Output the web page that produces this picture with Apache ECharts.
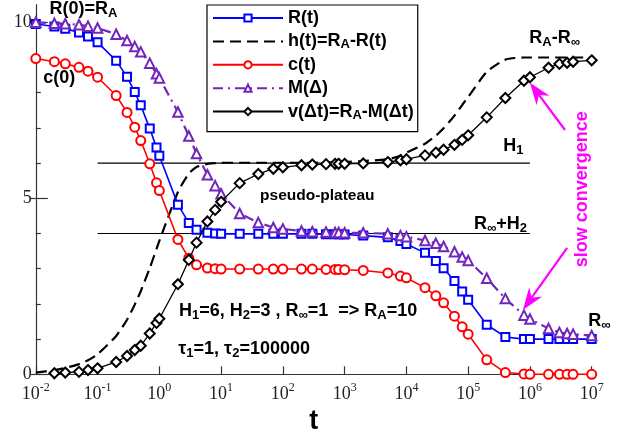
<!DOCTYPE html>
<html>
<head>
<meta charset="utf-8">
<script src="https://cdn.jsdelivr.net/npm/echarts@6/dist/echarts.min.js"></script>
<style>
html,body{margin:0;padding:0;background:#fff}
#main{width:635px;height:430px}
</style>
</head>
<body>
<div id="main"></div>
<script>
// time grid (same for all curves)
var T = [0.01,0.02,0.03,0.05,0.07,0.1,0.2,0.3,0.4,0.5,0.7,0.9,
         1,2,3,4,6,8,10,
         20,40,70,100,
         200,300,500,700,800,1000,
         2000,5000,8000,10000,
         20000,30000,40000,60000,80000,100000,
         200000,400000,800000,1000000,
         2000000,3000000,4000000,5000000,10000000];
// R(t)
var R = [9.95,9.88,9.82,9.71,9.60,9.43,8.91,8.45,8.02,7.64,6.98,6.44,
         6.21,4.82,4.30,4.11,4.02,4.00,3.99,
         3.99,3.99,3.99,3.99,
         3.99,3.99,3.98,3.98,3.98,3.97,
         3.94,3.89,3.79,3.70,
         3.45,3.22,3.01,2.65,2.35,2.12,
         1.41,1.06,1.00,1.00,
         1.00,1.00,1.00,1.00,1.00];
// h(t) = RA - R(t)
var H = [0.05,0.12,0.18,0.29,0.40,0.57,1.09,1.55,1.98,2.36,3.02,3.56,
         3.79,5.18,5.70,5.89,5.98,6.00,6.01,
         6.01,6.01,6.01,6.01,
         6.01,6.01,6.02,6.02,6.02,6.03,
         6.06,6.11,6.21,6.30,
         6.55,6.78,6.99,7.35,7.65,7.88,
         8.59,8.94,9.00,9.00,
         9.00,9.00,9.00,9.00,9.00];
// c(t)
var C = [8.97,8.88,8.82,8.72,8.61,8.44,7.92,7.44,7.02,6.64,5.98,5.44,
         5.22,3.83,3.30,3.11,3.02,3.00,2.99,
         2.99,2.99,2.99,2.99,
         2.99,2.99,2.98,2.98,2.98,2.97,
         2.95,2.88,2.79,2.74,
         2.46,2.23,2.03,1.65,1.35,1.14,
         0.41,0.05,0.01,0.00,
         0.00,0.00,0.00,0.00,0.00];
// M(Δ)
var M = [10.0,9.97,9.96,9.93,9.89,9.84,9.66,9.48,9.31,9.16,8.84,8.54,
         8.42,7.45,6.77,6.27,5.67,5.36,5.13,
         4.57,4.31,4.17,4.13,
         4.07,4.05,4.04,4.03,4.03,4.02,
         4.02,3.99,3.94,3.91,
         3.80,3.72,3.63,3.48,3.33,3.23,
         2.73,2.15,1.68,1.57,
         1.30,1.19,1.16,1.14,1.10];
// v(Δt), no point at 0.01
var TV = T.slice(1);
var V = [0.03,0.05,0.07,0.12,0.17,0.35,0.52,0.69,0.81,1.16,1.46,
         1.58,2.56,3.25,3.74,4.34,4.67,4.90,
         5.43,5.69,5.84,5.88,
         5.94,5.96,5.97,5.98,5.98,5.98,
         5.99,6.03,6.08,6.11,
         6.22,6.30,6.38,6.52,6.66,6.79,
         7.30,7.85,8.34,8.44,
         8.71,8.82,8.85,8.88,8.92];

// reference levels H1 and Rinf+H2
var levelT = [0.1, 1000000];
var levelH1 = [6, 6];
var levelH2 = [4, 4];

var xTicks = [0.01,0.1,1,10,100,1000,10000,100000,1000000,10000000];
var yMajor = [0, 5, 10];
var yMinor = [1, 2, 3, 4, 6, 7, 8, 9];

var legendLabels = {
	'R(t)': 'R(t)',
	'h(t)': 'h(t)=R{s|A}-R(t)',
	'c(t)': 'c(t)',
	'M(Δ)': 'M(Δ)',
	'v(Δt)': 'v(Δt)=R{s|A}-M(Δt)'
};

var SANS = 'Liberation Sans';
var SERIF = 'Liberation Serif';
var MAGENTA = '#ff00ff';

function pairs(xs, ys) {
	return xs.map(function (x, i) { return [x, ys[i]]; });
}

var chart = echarts.init(document.getElementById('main'));

var yBase = { type: 'value', min: 0, max: 10.5, position: 'left', splitLine: { show: false } };

var option = {
	animation: false,
	grid: { left: 35.8, right: 43.3, top: 4.7, bottom: 55.7, outerBoundsMode: 'none' },
	legend: {
		orient: 'vertical',
		left: 207, top: 5,
		padding: [3, 4, 10, 5],
		itemWidth: 70, itemHeight: 9, itemGap: 3.4,
		borderColor: '#000', borderWidth: 1.2, borderRadius: 0,
		backgroundColor: '#fff',
		textStyle: {
			fontFamily: SANS, fontWeight: 'bold', fontSize: 18, color: '#000', lineHeight: 20,
			rich: { s: { fontFamily: SANS, fontWeight: 'bold', fontSize: 13, lineHeight: 9, verticalAlign: 'bottom', color: '#000' } }
		},
		formatter: function (name) { return legendLabels[name]; },
		data: [
			{ name: 'R(t)' },
			{ name: 'h(t)', itemStyle: { opacity: 0 } },
			{ name: 'c(t)' },
			{ name: 'M(Δ)' },
			{ name: 'v(Δt)' }
		]
	},
	xAxis: {
		type: 'log', logBase: 10, min: 0.01, max: 10000000,
		axisLine: { lineStyle: { color: '#333', width: 1.2 } },
		axisTick: { inside: true, length: 8, customValues: xTicks, lineStyle: { color: '#333', width: 1.2 } },
		minorTick: { show: false },
		splitLine: { show: false },
		axisLabel: {
			customValues: xTicks, margin: 8, color: '#222',
			formatter: function (v) {
				var e = Math.round(Math.log(v) / Math.LN10);
				return '{b|10}{p|' + e + '}';
			},
			rich: {
				b: { fontFamily: SERIF, fontSize: 18, lineHeight: 24, color: '#222' },
				p: { fontFamily: SERIF, fontSize: 12, lineHeight: 12, verticalAlign: 'top', color: '#222' }
			}
		},
		name: 't', nameLocation: 'middle', nameGap: 25,
		nameTextStyle: { fontFamily: SANS, fontWeight: 'bold', fontSize: 27, color: '#000' }
	},
	yAxis: [
		Object.assign({}, yBase, {
			axisLine: { show: true, lineStyle: { color: '#333', width: 1.2 } },
			axisTick: { show: true, inside: true, length: 12, customValues: yMajor, lineStyle: { color: '#333', width: 1.2 } },
			axisLabel: { customValues: yMajor, fontFamily: SERIF, fontSize: 18, color: '#222', margin: 4 }
		}),
		Object.assign({}, yBase, {
			axisLine: { show: false },
			axisTick: { show: true, inside: true, length: 5, customValues: yMinor, lineStyle: { color: '#333', width: 1.2 } },
			axisLabel: { show: false }
		}),
		Object.assign({}, yBase, {
			axisLine: { show: false },
			axisTick: { show: true, inside: false, length: 5, customValues: yMajor, lineStyle: { color: '#333', width: 1.2 } },
			axisLabel: { show: false }
		})
	],
	series: [
		{ type: 'line', name: 'H1 level', data: pairs(levelT, levelH1), symbol: 'none', silent: true,
		  lineStyle: { color: '#000', width: 1.2 }, z: 1 },
		{ type: 'line', name: 'H2 level', data: pairs(levelT, levelH2), symbol: 'none', silent: true,
		  lineStyle: { color: '#000', width: 1.2 }, z: 1 },
		{ type: 'line', name: 'R(t)', data: pairs(T, R), symbol: 'emptyRect', symbolSize: 8,
		  itemStyle: { color: '#0000ff', borderWidth: 1.1 }, lineStyle: { color: '#0000ff', width: 1.6 }, z: 3 },
		{ type: 'line', name: 'h(t)', data: pairs(T, H), symbol: 'none', smooth: 0.2,
		  itemStyle: { color: '#000' }, lineStyle: { color: '#000', width: 2.2, type: [11, 6] }, z: 2 },
		{ type: 'line', name: 'c(t)', data: pairs(T, C), symbol: 'emptyCircle', symbolSize: 9,
		  itemStyle: { color: '#ff0000', borderWidth: 1.1 }, lineStyle: { color: '#ff0000', width: 1.6 }, z: 3 },
		{ type: 'line', name: 'M(Δ)', data: pairs(T, M), symbol: 'emptyTriangle', symbolSize: 9.5,
		  itemStyle: { color: '#7226bc', borderWidth: 1.5 }, lineStyle: { color: '#7226bc', width: 2.2, type: [10, 5, 2, 5] }, z: 4 },
		{ type: 'line', name: 'v(Δt)', data: pairs(TV, V), symbol: 'emptyDiamond', symbolSize: 10,
		  itemStyle: { color: '#000', borderWidth: 1.1 }, lineStyle: { color: '#000', width: 1.3 }, z: 5 }
	]
};
chart.setOption(option);

// annotations placed in data coordinates (t, value): left edge, vertical centre
var notes = [
	{ text: 'R(0)=R{s|A}', at: [0.0166, 10.385] },
	{ text: 'c(0)', at: [0.0132, 8.42] },
	{ text: 'pseudo-plateau', at: [42.7, 5.07], size: 15.5 },
	{ text: 'H{s|1}', at: [370000, 6.49] },
	{ text: 'R{s|∞}+H{s|2}', at: [124000, 4.27] },
	{ text: 'R{s|A}-R{s|∞}', at: [976000, 9.55] },
	{ text: 'R{s|∞}', at: [8800000, 1.51] },
	{ text: 'H{s|1}=6, H{s|2}=3 , R{s|∞}=1  => R{s|A}=10', at: [2.08, 1.81] },
	{ text: 'τ{s|1}=1, τ{s|2}=100000', at: [2.03, 0.72] }
];
// arrows: [tail, tip]
var arrows = [
	[[3700000, 6.94], [1000000, 8.28]],
	[[4000000, 3.59], [770000, 1.83]]
];
var slowAt = [7100000, 5.26];

function px(p) { return chart.convertToPixel({ gridIndex: 0 }, p); }

var graphics = [];
notes.forEach(function (n) {
	var p = px(n.at);
	var fs = n.size || 18;
	graphics.push({
		type: 'text', x: p[0], y: p[1], z: 10,
		style: {
			text: n.text, fill: '#000',
			fontFamily: SANS, fontWeight: 'bold', fontSize: fs, lineHeight: 22,
			align: 'left', verticalAlign: 'middle',
			rich: { s: { fontFamily: SANS, fontWeight: 'bold', fontSize: Math.round(fs * 0.72), lineHeight: 8, verticalAlign: 'bottom', fill: '#000' } }
		}
	});
});
arrows.forEach(function (a) {
	var p0 = px(a[0]), p1 = px(a[1]);
	var dx = p1[0] - p0[0], dy = p1[1] - p0[1];
	var len = Math.sqrt(dx * dx + dy * dy);
	var ux = dx / len, uy = dy / len, nx = -uy, ny = ux;
	var headL = 22, headW = 8, notch = 15;
	var bx = p1[0] - ux * headL, by = p1[1] - uy * headL;
	var kx = p1[0] - ux * notch, ky = p1[1] - uy * notch;
	graphics.push({ type: 'line', z: 10, shape: { x1: p0[0], y1: p0[1], x2: kx, y2: ky }, style: { stroke: MAGENTA, lineWidth: 2.2 } });
	graphics.push({ type: 'polygon', z: 10, shape: { points: [p1, [bx + nx * headW, by + ny * headW], [kx, ky], [bx - nx * headW, by - ny * headW]] }, style: { fill: MAGENTA } });
});
var sp = px(slowAt);
graphics.push({
	type: 'text', x: sp[0], y: sp[1], rotation: Math.PI / 2, z: 10,
	style: { text: 'slow convergence', fill: MAGENTA, fontFamily: SANS, fontWeight: 'bold', fontSize: 18, align: 'center', verticalAlign: 'middle' }
});
chart.setOption({ graphic: graphics });
</script>
</body>
</html>
